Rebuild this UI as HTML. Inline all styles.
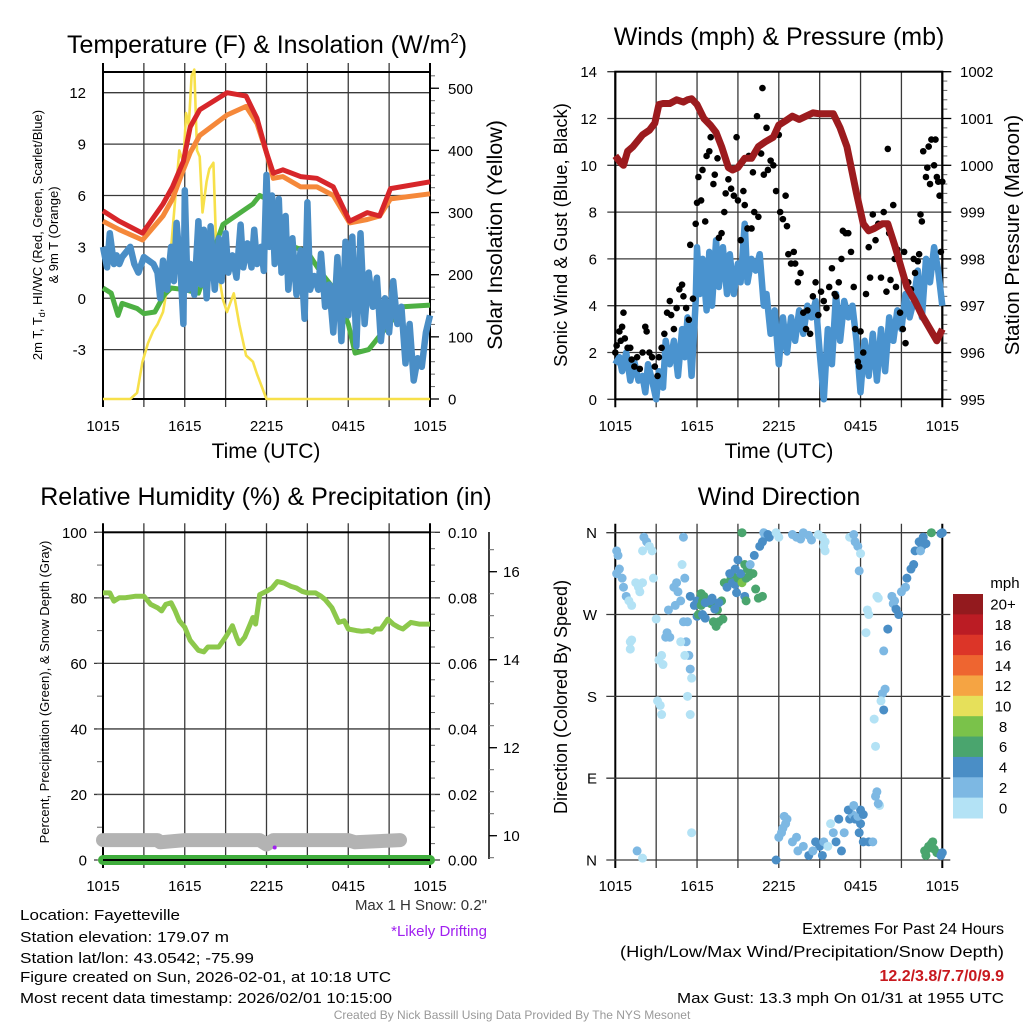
<!DOCTYPE html>
<html><head><meta charset="utf-8"><style>
html,body{margin:0;padding:0;background:#fff;}
svg{display:block;font-family:"Liberation Sans",Arial,sans-serif;}
</style></head><body>
<svg id="chart" width="1024" height="1024" viewBox="0 0 1024 1024" xmlns="http://www.w3.org/2000/svg">
<rect x="0" y="0" width="1024" height="1024" fill="#fff"/>
<g id="p1"></g>
<g id="p2"></g>
<g id="p3"></g>
<g id="p4"></g>
<g id="txt" fill="#000">
<text x="267" y="53" font-size="25" text-anchor="middle">Temperature (F) &amp; Insolation (W/m<tspan font-size="15" dy="-10">2</tspan><tspan dy="10">)</tspan></text>
<text x="779" y="45" font-size="25" text-anchor="middle">Winds (mph) &amp; Pressure (mb)</text>
<text x="266" y="505" font-size="25" text-anchor="middle">Relative Humidity (%) &amp; Precipitation (in)</text>
<text x="779" y="505" font-size="25" text-anchor="middle">Wind Direction</text>
<text x="266" y="458" font-size="21" text-anchor="middle">Time (UTC)</text>
<text x="779" y="458" font-size="21" text-anchor="middle">Time (UTC)</text>
<text transform="translate(42,235) rotate(-90)" font-size="13" text-anchor="middle">2m T, T<tspan font-size="9" dy="3">d</tspan><tspan dy="-3">, HI/WC (Red, Green, Scarlet/Blue)</tspan></text>
<text transform="translate(58,235) rotate(-90)" font-size="13" text-anchor="middle">&amp; 9m T (Orange)</text>
<text transform="translate(502,235) rotate(-90)" font-size="21.5" text-anchor="middle">Solar Insolation (Yellow)</text>
<text transform="translate(567,235) rotate(-90)" font-size="18.4" text-anchor="middle">Sonic Wind &amp; Gust (Blue, Black)</text>
<text transform="translate(1019,235) rotate(-90)" font-size="20.5" text-anchor="middle">Station Pressure (Maroon)</text>
<text transform="translate(49,692) rotate(-90)" font-size="13" text-anchor="middle">Percent, Precipitation (Green), &amp; Snow Depth (Gray)</text>
<text transform="translate(567,697) rotate(-90)" font-size="18" text-anchor="middle">Direction (Colored By Speed)</text>
<text x="487" y="910" font-size="15" text-anchor="end" fill="#333">Max 1 H Snow: 0.2"</text>
<text x="487" y="936" font-size="15" text-anchor="end" fill="#a020f0">*Likely Drifting</text>
<text x="20" y="920" font-size="15" textLength="160" lengthAdjust="spacingAndGlyphs">Location: Fayetteville</text>
<text x="20" y="942" font-size="15" textLength="209" lengthAdjust="spacingAndGlyphs">Station elevation: 179.07 m</text>
<text x="20" y="963" font-size="15" textLength="234" lengthAdjust="spacingAndGlyphs">Station lat/lon: 43.0542; -75.99</text>
<text x="20" y="982" font-size="15" textLength="371" lengthAdjust="spacingAndGlyphs">Figure created on Sun, 2026-02-01, at 10:18 UTC</text>
<text x="20" y="1003" font-size="15" textLength="372" lengthAdjust="spacingAndGlyphs">Most recent data timestamp: 2026/02/01 10:15:00</text>
<text x="1004" y="934" font-size="16" text-anchor="end">Extremes For Past 24 Hours</text>
<text x="1004" y="957" font-size="16" text-anchor="end" textLength="384" lengthAdjust="spacingAndGlyphs">(High/Low/Max Wind/Precipitation/Snow Depth)</text>
<text x="1004" y="981" font-size="16" font-weight="bold" text-anchor="end" fill="#c8191e">12.2/3.8/7.7/0/9.9</text>
<text x="1004" y="1003" font-size="15" text-anchor="end" textLength="327" lengthAdjust="spacingAndGlyphs">Max Gust: 13.3 mph On 01/31 at 1955 UTC</text>
<text x="512" y="1019" font-size="12" text-anchor="middle" fill="#999">Created By Nick Bassill Using Data Provided By The NYS Mesonet</text>
</g>
</svg>
<script>
// ---------- DATA ----------
const xTickLabels = ["1015","1615","2215","0415","1015"];
const p1LeftTicks = [12,9,6,3,0,-3];
const p1RightTicks = [500,400,300,200,100,0];
const p2LeftTicks = [14,12,10,8,6,4,2,0];
const p2RightTicks = [1002,1001,1000,999,998,997,996,995];
const p3LeftTicks = [100,80,60,40,20,0];
const p3RightTicks = ["0.10","0.08","0.06","0.04","0.02","0.00"];
const p3RightVals = [0.10,0.08,0.06,0.04,0.02,0.00];
const snowTicks = [16,14,12,10];
const dirLabels = ["N","W","S","E","N"];
const dirVals = [360,270,180,90,0];
const speedBins = ["20+","18","16","14","12","10","8","6","4","2","0"];
const speedColors = ["#931a1e","#bb1c24","#dc3528","#ee6530","#f5a443","#e6e05a","#7ac24a","#4aa56e","#4a8ec6","#7db8e3","#b3e2f5"];

const tHours = [0,1.2,2.9,4.4,5.1,5.9,6.4,7.1,9.1,10.5,11.3,12.0,12.5,13.2,14.5,15.7,16.9,18.1,19.4,20.3,21.1,24];
const tempRed = [5.1,4.5,3.8,5.5,6.5,8.0,10,11,12,11.8,10.5,8.5,7.3,7.5,7.1,7.0,6.5,4.5,5.0,4.8,6.4,6.8];
const temp9m = [4.5,4.0,3.4,4.8,5.8,7.5,8.5,9.5,10.7,11.2,10.2,8.5,7.0,7.1,6.5,6.5,6.0,4.4,4.6,4.8,5.8,6.1];
const dewHours = [0,0.6,1.1,1.4,2.5,3,3.8,4.5,5,6,7,8.8,11,11.5,12,13,14,15,16,17,18,18.5,19.5,20,21,22,24];
const dewGreen = [0.6,0.3,-1.0,-0.3,-0.6,-0.9,-0.8,0.2,0.6,0.5,0.3,4.3,5.5,6.0,5.8,4.0,3.0,2.7,1.5,0.5,-1.5,-3.2,-3.0,-2.5,-1.5,-0.5,-0.4];
const hiHours = [0,0.3,0.5,0.8,1,1.2,1.4,2,2.3,2.6,3,3.7,4,4.2,4.4,4.7,5,5.2,5.4,5.7,5.9,6,6.2,6.4,6.7,7,7.2,7.4,7.6,7.9,8.2,8.5,8.7,9,9.2,9.5,9.8,10.1,10.3,10.6,10.9,11.1,11.3,11.6,11.8,12,12.2,12.4,12.6,12.9,13.1,13.4,13.6,13.9,14.2,14.5,14.8,15,15.2,15.5,15.8,16,16.3,16.6,16.9,17.2,17.5,17.8,18,18.3,18.6,18.9,19.2,19.5,19.8,20.1,20.4,20.7,21,21.3,21.6,21.9,22.2,22.5,22.8,23.1,23.4,23.7,24];
const hiwcBlue = [3,1.8,3.8,2,2.5,2.0,2.4,3.0,2.0,1.5,2.4,2.0,1.5,0,2.2,0.5,3.0,1,4.4,1.5,-1.5,6.3,0.5,2.0,0.2,4.5,0.8,4.0,0,4.2,0.5,3.5,1.0,3.8,1.5,2.5,1.2,4.3,1.8,3.2,1.8,4.0,2.0,3.0,1.6,7.2,3.0,6.0,2.0,5.8,1.5,4.8,0.5,3.5,0.2,2.8,-1.2,5.6,0.5,1.3,0.5,2.6,-0.5,0.8,-2.0,2.4,-2.5,3.3,-1.0,3.6,-2.8,3.8,-1.5,1.5,-0.5,1.2,-2.5,0.0,-2.0,1.0,-1.5,-0.5,-3.8,-1.5,-4.8,-3.5,-4.0,-2.0,-1.0];
const solHours = [0,2.0,2.5,2.9,3.3,3.7,4.0,4.4,4.8,5.1,5.6,5.9,6.1,6.3,6.5,6.7,6.9,7.1,7.3,7.6,7.8,8.1,8.3,8.5,8.8,9.1,9.6,10.0,10.5,11.0,11.3,12.0,24];
const solar = [0,0,10,60,90,110,120,140,190,270,400,380,460,440,520,530,400,390,300,350,370,380,250,200,160,140,170,120,70,60,40,0,0];

const pHours = [0,0.4,0.6,0.9,1.3,2,2.5,2.9,3.2,3.5,4,4.5,5,5.3,5.6,6,6.5,7,7.4,7.8,8.3,8.6,9,9.5,10,10.5,11,11.6,12,12.5,13,13.5,14,14.5,15,15.5,16,16.5,17,17.7,18.2,18.6,19,19.6,20,20.5,21,21.4,22,22.5,22.9,23.3,23.6,24];
const pressure = [1000.2,1000.05,1000.0,1000.3,1000.4,1000.65,1000.75,1000.9,1001.3,1001.32,1001.32,1001.4,1001.35,1001.4,1001.42,1001.3,1001.0,1000.85,1000.7,1000.4,999.95,999.9,999.95,1000.15,1000.15,1000.4,1000.5,1000.6,1000.86,1000.95,1001.05,1000.98,1001.05,1001.12,1001.1,1001.1,1001.1,1000.8,1000.4,999.4,998.75,998.6,998.65,998.75,998.75,998.3,997.8,997.4,997.1,996.8,996.6,996.4,996.25,996.5];
const windHours = [0,0.3,0.5,0.8,1.1,1.4,1.7,2,2.2,2.4,2.7,3,3.2,3.5,3.7,4,4.3,4.6,4.9,5.1,5.3,5.6,5.9,6,6.2,6.4,6.7,6.9,7.1,7.4,7.6,7.9,8.2,8.4,8.7,9,9.2,9.5,9.7,10,10.3,10.6,10.9,11.1,11.4,11.7,12,12.3,12.6,12.9,13.2,13.5,13.8,14.1,14.4,14.7,15,15.3,15.6,15.9,16.2,16.5,16.8,17.1,17.4,17.7,18,18.3,18.6,18.9,19.2,19.5,19.8,20.1,20.4,20.7,21,21.3,21.6,21.9,22.2,22.5,22.8,23.1,23.4,23.7,24];
const windBlue = [1.5,1.8,1.2,2.0,0.8,1.6,0.8,1.0,0.3,1.5,0.8,0.0,1.2,0.5,2.5,1.5,2.5,1.0,3.0,1.8,3.5,1.0,4.2,6.5,4.5,6.0,3.8,6.3,4.0,6.8,4.8,6.5,4.5,6.2,4.5,5.8,5.0,7.5,5.0,6.0,5.5,6.2,4.0,4.5,2.8,3.8,1.5,3.5,2.0,3.5,2.5,3.8,2.8,4.0,3.5,4.2,2.0,0.0,3.0,1.5,4.5,2.5,4.2,3.5,4.0,2.5,0.3,2.5,1.0,2.8,0.8,3.0,1.2,3.5,2.5,3.8,3.0,4.5,3.5,4.2,5.5,3.5,6.0,5.0,6.5,5.5,4.0];
const gustHours = [0.0,0.1,0.3,0.4,0.5,0.6,0.7,0.9,1.1,1.2,1.4,1.6,1.8,2.0,2.2,2.3,2.5,2.7,2.9,3.1,3.2,3.4,3.6,3.8,4.0,4.1,4.3,4.5,4.7,4.9,5.0,5.2,5.4,5.5,5.7,5.9,6.0,6.1,6.3,6.4,6.6,6.7,6.9,7.0,7.2,7.3,7.5,7.6,7.8,8.0,8.1,8.3,8.5,8.7,8.9,9.0,9.2,9.4,9.5,9.7,9.8,10.0,10.1,10.2,10.4,10.5,10.7,10.8,10.9,11.1,11.2,11.4,11.6,11.8,12.0,12.1,12.3,12.5,12.6,12.7,12.9,13.1,13.2,13.4,13.6,13.8,14.0,14.1,14.3,14.5,14.7,14.9,15.1,15.3,15.5,15.7,15.9,16.1,16.2,16.4,16.6,16.7,16.9,17.1,17.3,17.5,17.6,17.8,17.9,18.0,18.2,18.4,18.6,18.7,18.9,19.1,19.3,19.5,19.7,19.9,20.0,20.1,20.2,20.4,20.5,20.6,20.7,20.9,21.1,21.2,21.3,21.5,21.7,21.9,22.0,22.2,22.3,22.4,22.5,22.6,22.8,22.9,23.0,23.1,23.2,23.4,23.5,23.6,23.7,23.8,23.9,24.0];
const gust = [2.0,2.3,2.9,2.5,3.1,3.7,2.6,2.2,2.2,1.7,1.4,1.8,1.3,2.0,3.1,2.9,2.0,1.8,1.4,1.0,1.8,2.2,2.8,3.7,4.2,3.6,3.0,3.9,4.7,4.9,4.4,3.9,3.4,6.6,4.3,7.5,8.4,9.5,8.5,9.8,7.6,10.4,10.6,11.2,9.2,9.6,10.3,6.9,7.1,8.0,8.8,9.4,9.0,8.7,11.2,8.5,6.8,8.9,8.3,7.3,10.4,7.3,9.7,8.0,12.1,7.8,10.5,13.3,9.6,11.6,9.8,10.2,10.0,8.9,11.3,8.0,7.7,8.7,7.4,6.2,5.8,6.3,5.8,5.0,5.4,3.7,3.0,3.8,2.8,4.4,5.0,3.6,4.6,4.2,3.9,4.8,5.6,4.5,4.4,5.0,6.0,7.2,7.1,7.1,6.3,4.8,3.0,1.6,1.4,2.9,2.0,4.5,6.5,5.2,7.9,6.8,7.5,5.2,8.0,4.6,10.7,7.1,5.1,8.3,6.0,4.8,6.4,3.7,3.0,6.3,2.4,5.0,4.7,6.0,5.4,5.9,6.2,7.9,7.6,10.6,9.5,9.9,10.8,9.2,11.1,10.0,11.1,9.5,9.3,8.7,6.3,9.3];

const rhHours = [0,0.5,0.8,1.2,1.6,2.4,3,3.5,4,4.3,4.6,5,5.3,5.6,6,6.4,7,7.4,7.7,8,8.5,9,9.3,9.5,9.8,10,10.4,10.8,11,11.2,11.5,12,12.4,12.8,13.3,13.8,14.2,14.6,15,15.6,16,16.3,16.8,17.3,17.7,18,18.6,19,19.5,19.8,20,20.4,20.9,21.3,21.7,22,22.6,23.2,23.7,24];
const rh = [81.5,81.5,79,80,80,80.5,80.5,78,77,76,78,78.5,76,73,71,67,64,63.5,65,65,65,68,70,71.5,68,66,68,72,74,72,81,82,83,85,84.5,83.5,83,82,81.5,81.5,80.5,79.5,77,72.5,73,70.5,70,69.8,70,69.5,70.5,70.5,73.5,72,71,70.5,72.5,72,72,72];
const snowHours = [0,4,4.2,6,11.5,12,12.5,18,18.5,21.8];
const snowDepth = [9.9,9.9,9.85,9.9,9.9,9.8,9.9,9.9,9.85,9.9];
const precipHours = [0,24];
const precip = [0,0];
const driftHour = [12.6];
const driftVal = [3.8];

const dirHours = [0.1,0.2,0.1,0.3,0.5,0.6,0.8,1.0,1.2,1.5,1.7,1.8,2.0,2.1,2.3,2.5,2.7,2.0,2.8,1.1,1.2,1.1,3.0,3.1,3.3,3.4,3.2,3.4,3.5,3.8,3.7,4.0,4.3,4.5,4.6,4.8,4.4,3.9,5.0,5.3,5.2,5.4,5.5,5.6,5.3,5.5,5.1,4.8,5.0,4.9,5.1,5.5,5.8,6.0,6.1,6.0,6.3,6.5,6.8,7.0,7.3,7.5,7.8,6.4,6.6,7.2,7.4,7.6,7.9,6.3,6.4,7.1,7.0,6.6,7.6,7.3,8.0,8.3,8.5,8.6,8.2,8.6,8.8,9.0,9.3,9.6,9.8,10.1,9.0,9.2,9.5,9.7,8.8,8.4,9.9,10.2,10.6,11.0,10.9,11.2,11.3,10.8,9.5,9.6,10.3,10.5,10.8,9.3,8.9,11.8,12.0,13.0,13.3,13.6,13.8,14.2,14.4,14.9,15.2,15.4,15.3,15.4,17.2,17.5,17.8,17.6,18.0,19.2,19.3,18.5,18.6,18.4,17.9,20.3,20.4,20.6,20.8,20.5,20.0,19.7,19.6,19.8,19.5,19.7,19.0,19.1,19.4,19.2,19.1,19.3,21.0,21.3,21.4,21.7,21.9,22.0,22.3,22.6,22.5,22.8,22.4,23.2,24.0,23.9,11.8,12.3,12.5,12.2,12.0,12.4,12.6,13.0,13.3,13.8,14.2,14.7,15.0,15.2,15.3,15.6,15.8,16.0,16.2,16.6,17.2,17.4,17.1,17.6,18.0,17.8,18.2,18.0,17.9,18.2,18.6,18.9,17.5,16.8,16.4,14.5,13.4,1.6,2.0,5.6,22.8,22.9,23.0,23.2,23.4,23.6,23.9,24.0,22.7,23.3];
const dirDeg = [340,335,315,320,310,300,290,285,280,305,300,295,305,355,350,345,340,340,310,240,242,232,265,175,170,160,220,225,215,250,245,245,300,305,295,285,280,275,262,262,240,225,210,200,180,160,225,240,355,325,310,290,280,268,270,285,293,290,285,282,280,275,285,270,266,262,257,262,265,280,285,288,285,283,283,276,305,305,310,312,300,305,303,310,305,310,312,315,330,315,325,320,320,315,325,335,345,355,360,358,355,350,290,285,298,288,290,360,294,360,355,358,355,353,360,357,352,358,355,350,345,340,355,358,345,350,337,290,288,275,270,250,318,290,282,276,270,285,254,230,183,188,175,165,155,125,60,75,70,62,295,300,310,320,325,340,350,355,345,348,340,360,360,359,0,35,40,30,25,48,45,20,25,15,5,20,15,5,20,15,40,30,20,10,45,50,55,45,40,48,50,55,30,20,20,20,60,30,45,10,10,10,2,30,5,12,15,18,12,8,5,8,10,20];
const dirSpeed = [2,2,1,2,2,2,1,0,0,0,0,0,0,2,2,0,0,0,0,0,0,0,0,0,0,0,0,0,0,2,2,2,2,2,2,2,2,2,2,2,2,2,2,0,0,0,0,0,2,0,2,4,4,4,6,4,6,6,6,6,6,6,6,4,4,6,6,6,6,6,6,4,4,4,4,4,6,6,6,6,4,4,4,6,8,6,6,6,4,4,6,6,4,4,2,4,4,2,2,4,4,4,4,6,6,6,6,6,4,0,0,2,2,2,2,2,2,0,0,0,0,0,0,2,2,2,0,0,0,0,0,0,2,2,2,4,4,2,4,2,2,2,0,4,0,0,0,2,2,2,2,2,4,4,4,4,4,4,4,4,2,6,4,4,4,2,2,2,2,2,2,2,2,2,4,4,4,4,2,0,0,2,4,4,4,2,4,4,4,2,4,4,4,4,4,2,2,2,4,2,2,2,0,0,6,6,6,6,6,6,4,4,6,6];

// ---------- HELPERS ----------
const NS = "http://www.w3.org/2000/svg";
function mk(tag, attrs, parent){
  const e = document.createElementNS(NS, tag);
  for (const k in attrs) e.setAttribute(k, attrs[k]);
  parent.appendChild(e);
  return e;
}
function linePath(hs, vs, fx, fy){
  let d = "";
  for (let i = 0; i < hs.length; i++) d += (i ? "L" : "M") + fx(hs[i]).toFixed(1) + "," + fy(vs[i]).toFixed(1);
  return d;
}
function colorFor(s){
  const idx = Math.min(10, Math.max(0, Math.round(s / 2)));
  return speedColors[10 - idx];
}
const GRID = "#3a3a3a";

function timeGrid(g, x0, x1, yTop, yBot, extTop, extBot, labelY, prefix){
  const fx = h => x0 + (x1 - x0) * h / 24;
  for (let i = 0; i <= 8; i++){
    const x = fx(i * 3);
    const ln = mk("line", {x1:x, x2:x, y1:yTop - extTop, y2:yBot + extBot, stroke:(i===0||i===8)?"#000":GRID, "stroke-width":(i===0||i===8)?2:1.3}, g);
    
    
  }
  for (let i = 0; i < xTickLabels.length; i++){
    const t = mk("text", {x:fx(i * 6), y:labelY, "font-size":15, "text-anchor":"middle"}, g);
    t.textContent = xTickLabels[i];
    
    
  }
  return fx;
}
function hGrid(g, vals, fy, x0, x1, extL, extR, prefix, labels, lx, anchor){
  for (let i = 0; i < vals.length; i++){
    const y = fy(vals[i]);
    const ln = mk("line", {x1:x0 - extL, x2:x1 + extR, y1:y, y2:y, stroke:GRID, "stroke-width":1.3}, g);
    
    
    if (labels){
      const t = mk("text", {x:lx, y:y + 5.5, "font-size":15, "text-anchor":anchor}, g);
      t.textContent = labels[i];
      
      
    }
  }
}
function rightTicks(g, vals, labels, fy, x, lx, prefix, minorStep, vmin, vmax){
  for (let v = vmin; v <= vmax + 1e-9; v += minorStep){
    const ln = mk("line", {x1:x, x2:x + 5, y1:fy(v), y2:fy(v), stroke:"#666", "stroke-width":1}, g);
    
    
  }
  for (let i = 0; i < vals.length; i++){
    const y = fy(vals[i]);
    const ln = mk("line", {x1:x, x2:x + 9, y1:y, y2:y, stroke:"#000", "stroke-width":1.3}, g);
    
    
    const t = mk("text", {x:lx, y:y + 5.5, "font-size":15, "text-anchor":"start"}, g);
    t.textContent = labels[i];
    
    
  }
}

// ---------- PANEL 1 ----------
(function(){
  const g = document.getElementById("p1");
  const x0 = 103, x1 = 430, yT = 72, yB = 399;
  const fy = v => 92.7 + (12 - v) * 17.13;
  const fr = r => 399 - r * 0.6215;
  const fx = timeGrid(g, x0, x1, yT, yB, 9, 8, 431, "p1");
  hGrid(g, p1LeftTicks, fy, x0, x1, 0, 0, "p1-y", p1LeftTicks, 86, "end");
  rightTicks(g, p1RightTicks, p1RightTicks, fr, x1, 448, "p1-right", 20, 0, 520);
  const fr1 = mk("rect", {x:x0, y:yT, width:x1 - x0, height:yB - yT, fill:"none", stroke:"#000", "stroke-width":2}, g);
  
  
  const yl = mk("path", {d:linePath(solHours, solar, fx, fr), fill:"none", stroke:"#f7e04a", "stroke-width":2.6, "stroke-linejoin":"round"}, g);
  
  
  const gr = mk("path", {d:linePath(dewHours, dewGreen, fx, fy), fill:"none", stroke:"#4db043", "stroke-width":5, "stroke-linejoin":"round"}, g);
  
  
  const bl = mk("path", {d:linePath(hiHours, hiwcBlue, fx, fy), fill:"none", stroke:"#4a8ec6", "stroke-width":6.5, "stroke-linejoin":"round"}, g);
  
  
  const or = mk("path", {d:linePath(tHours, temp9m, fx, fy), fill:"none", stroke:"#f5883a", "stroke-width":5, "stroke-linejoin":"round"}, g);
  
  
  const rd = mk("path", {d:linePath(tHours, tempRed, fx, fy), fill:"none", stroke:"#d7262a", "stroke-width":5, "stroke-linejoin":"round"}, g);
  
  
})();

// ---------- PANEL 2 ----------
(function(){
  const g = document.getElementById("p2");
  const x0 = 615.3, x1 = 942.3, yT = 71.7, yB = 399.3;
  const fy = v => 399.3 - v * 23.4;
  const fp = p => 399.3 - (p - 995) * 46.8;
  const fx = timeGrid(g, x0, x1, yT, yB, 0, 8, 431, "p2");
  hGrid(g, p2LeftTicks, fy, x0, x1, 8, 0, "p2-y", p2LeftTicks, 597, "end");
  rightTicks(g, p2RightTicks, p2RightTicks, fp, x1, 960, "p2-right", 0.2, 995, 1002);
  const fr2 = mk("rect", {x:x0, y:yT, width:x1 - x0, height:yB - yT, fill:"none", stroke:"#000", "stroke-width":2}, g);
  
  
  const bl = mk("path", {d:linePath(windHours, windBlue, fx, fy), fill:"none", stroke:"#4a93cf", "stroke-width":6.5, "stroke-linejoin":"round"}, g);
  
  
  for (let i = 0; i < gustHours.length; i++){
    const c = mk("circle", {cx:fx(gustHours[i]), cy:fy(gust[i]), r:3.3, fill:"#000"}, g);
    
    
  }
  const pr = mk("path", {d:linePath(pHours, pressure, fx, fp), fill:"none", stroke:"#9c1b1e", "stroke-width":7, "stroke-linejoin":"round"}, g);
  
  
})();

// ---------- PANEL 3 ----------
(function(){
  const g = document.getElementById("p3");
  const x0 = 103, x1 = 430, yT = 532.3, yB = 860;
  const fy = v => 860 - v * 3.277;
  const fpr = v => 860 - v * 3277;
  const fs = s => 835.7 - (s - 10) * 44;
  const fx = timeGrid(g, x0, x1, yT, yB, 9, 8, 891, "p3");
  hGrid(g, p3LeftTicks, fy, x0, x1, 9, 10, "p3-y", p3LeftTicks, 87, "end");
  for (let v = 0; v <= 100; v += 10){
    const t = mk("line", {x1:x0 - 6, x2:x0, y1:fy(v), y2:fy(v), stroke:"#666", "stroke-width":1}, g);
    
    
  }
  for (let i = 0; i < p3RightVals.length; i++){
    const t = mk("text", {x:448, y:fpr(p3RightVals[i]) + 5.5, "font-size":15}, g);
    t.textContent = p3RightTicks[i];
    
    
  }
  for (let v = 0; v <= 0.1001; v += 0.005){
    const t = mk("line", {x1:x1, x2:x1 + 5, y1:fpr(v), y2:fpr(v), stroke:"#666", "stroke-width":1}, g);
    
    
  }
  const sa = mk("line", {x1:489, x2:489, y1:532, y2:859, stroke:"#000", "stroke-width":1.5}, g);
  
  
  for (let s = 9.5; s <= 16.9; s += 0.5){
    const t = mk("line", {x1:489, x2:494, y1:fs(s), y2:fs(s), stroke:"#666", "stroke-width":1}, g);
    
    
  }
  for (let i = 0; i < snowTicks.length; i++){
    const y = fs(snowTicks[i]);
    const t = mk("line", {x1:489, x2:497, y1:y, y2:y, stroke:"#000", "stroke-width":1.3}, g);
    
    
    const l = mk("text", {x:503, y:y + 5.5, "font-size":15}, g);
    l.textContent = snowTicks[i];
    
    
  }
  const fr3 = mk("rect", {x:x0, y:yT, width:x1 - x0, height:yB - yT, fill:"none", stroke:"#000", "stroke-width":2}, g);
  
  
  const sn = mk("path", {d:linePath(snowHours, snowDepth, fx, fs), fill:"none", stroke:"#b3b3b3", "stroke-width":14, "stroke-linecap":"round", "stroke-linejoin":"round"}, g);
  
  
  const pc = mk("path", {d:linePath(precipHours, precip, fx, fpr), fill:"none", stroke:"#3fad3c", "stroke-width":10, "stroke-linecap":"round"}, g);
  
  
  const bx = mk("line", {x1:x0, x2:x1, y1:yB, y2:yB, stroke:"#000", "stroke-width":2}, g);
  
  
  const rl = mk("path", {d:linePath(rhHours, rh, fx, fy), fill:"none", stroke:"#8cc84b", "stroke-width":5, "stroke-linejoin":"round"}, g);
  
  
  for (let i = 0; i < driftHour.length; i++){
    const d = mk("circle", {cx:fx(driftHour[i]), cy:fy(driftVal[i]), r:2, fill:"#a020f0"}, g);
    
    
  }
})();

// ---------- PANEL 4 ----------
(function(){
  const g = document.getElementById("p4");
  const x0 = 615.3, x1 = 942.3, yT = 532.7, yB = 860;
  const fy = d => 860 - d * 0.9092;
  const fx = timeGrid(g, x0, x1, yT, yB, 9, 8, 891, "p4");
  hGrid(g, dirVals, fy, x0, x1, 9, 8, "p4-y", dirLabels, 597, "end");
  for (let i = 0; i < dirHours.length; i++){
    const c = mk("circle", {cx:fx(dirHours[i]), cy:fy(dirDeg[i]), r:4.5, fill:colorFor(dirSpeed[i])}, g);
    
    
  }
  const m = mk("text", {x:1005, y:588, "font-size":15, "text-anchor":"middle"}, g);
  m.textContent = "mph";
  
  
  const top = 594, segH = 224 / speedBins.length;
  for (let i = 0; i < speedBins.length; i++){
    const r = mk("rect", {x:953, y:top + i * segH, width:30, height:segH + 0.5, fill:speedColors[i]}, g);
    
    
    const t = mk("text", {x:1003, y:top + i * segH + segH / 2 + 5.5, "font-size":15, "text-anchor":"middle"}, g);
    t.textContent = speedBins[i];
    
    
  }
})();
</script>
</body></html>
